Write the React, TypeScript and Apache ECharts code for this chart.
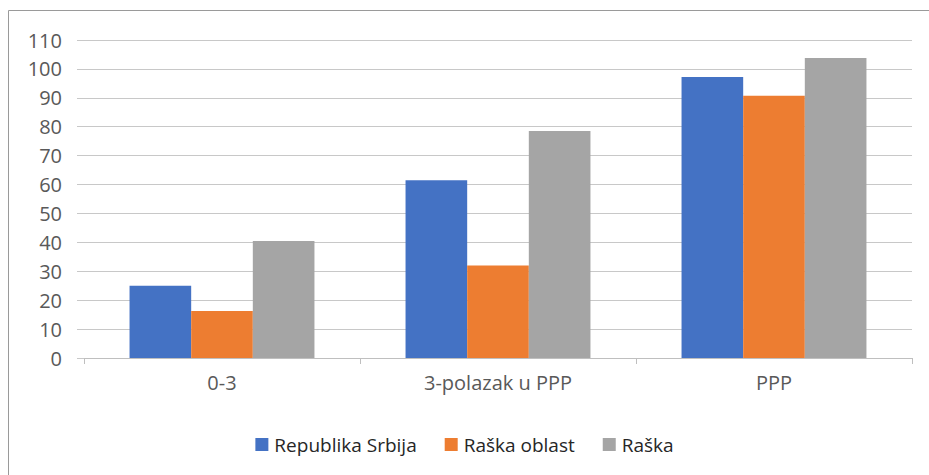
import React, { useEffect, useRef } from "react";
import * as echarts from "echarts";

const categories = ["0-3", "3-polazak u PPP", "PPP"];
const seriesNames = ["Republika Srbija", "Raška oblast", "Raška"];
const republikaSrbija = [25, 61.5, 97.2];
const raskaOblast = [16.3, 32, 90.7];
const raska = [40.5, 78.5, 103.8];
const colors = ["#4472C4", "#ED7D31", "#A5A5A5"];

export default function App() {
  const ref = useRef<HTMLDivElement>(null);
  useEffect(() => {
    if (!ref.current) return;
    const chart = echarts.init(ref.current, undefined, { renderer: "svg" });
    const font = "'Open Sans', sans-serif";
    const values = [republikaSrbija, raskaOblast, raska];
    chart.setOption({
      animation: false,
      graphic: [
        {
          type: "rect",
          shape: { x: 8.5, y: 10.5, width: 1000, height: 1000 },
          style: { fill: "none", stroke: "#9a9a9a", lineWidth: 1 },
          silent: true,
          z: -1,
        },
      ],
      grid: { left: 84, right: 17, top: 40, bottom: 117, containLabel: false },
      legend: {
        data: seriesNames,
        top: 430,
        left: "center",
        itemWidth: 13,
        itemHeight: 13,
        itemGap: 28,
        icon: "rect",
        textStyle: { fontFamily: font, fontSize: 19, color: "#262626", padding: [0, 0, 0, 1] },
      },
      xAxis: {
        type: "category",
        data: categories,
        axisLine: { show: true, lineStyle: { color: "#bfbfbf", width: 1 } },
        axisTick: { show: true, length: 6, lineStyle: { color: "#bfbfbf" } },
        axisLabel: { fontFamily: font, fontSize: 20, color: "#595959", margin: 14 },
        splitLine: { show: false },
      },
      yAxis: {
        type: "value",
        min: 0,
        max: 110,
        interval: 10,
        axisLine: { show: false },
        axisTick: { show: true, length: 7, lineStyle: { color: "#c8c8c8" } },
        axisLabel: { fontFamily: font, fontSize: 20, color: "#595959", margin: 22 },
        splitLine: { show: true, lineStyle: { color: "#c8c8c8", width: 1 } },
      },
      series: seriesNames.map((name, i) => ({
        name,
        type: "bar",
        data: values[i],
        itemStyle: { color: colors[i] },
        barGap: "0%",
        barCategoryGap: "33%",
      })),
    });
    return () => chart.dispose();
  }, []);
  return (
    <div
      ref={ref}
      style={{ position: "absolute", left: 0, top: 0, width: 929, height: 475, background: "#fff" }}
    />
  );
}
